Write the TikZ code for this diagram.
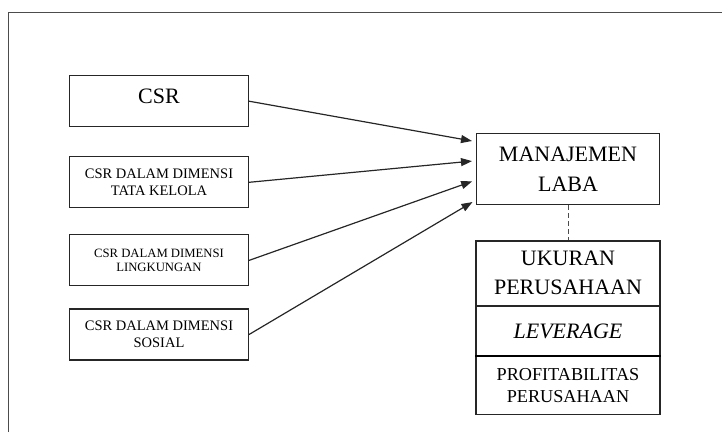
\documentclass[tikz,border=0pt]{standalone}
\usepackage{fontspec}
\setmainfont{Liberation Serif}
\usetikzlibrary{positioning,arrows.meta}

\begin{document}
\begin{tikzpicture}
    [
        x=1pt, y=1pt,
        varbox/.style={rectangle, draw=black!85, line width=1.1pt, minimum width=179pt, minimum height=51pt, inner sep=0pt, align=center},
        labanode/.style={rectangle, draw=black!85, line width=1.1pt, minimum width=183pt, minimum height=71pt, inner sep=0pt, align=center},
        kontrolbox/.style={rectangle, draw=black!85, line width=1.1pt, minimum width=184pt, inner sep=0pt, align=center},
        bigtext/.style={font=\fontsize{22}{30}\selectfont},
        smalltext/.style={font=\fontsize{14.5}{16.7}\selectfont},
        link/.style={draw=black!85, line width=1.2pt, -{Triangle[length=11pt,width=8pt]}, shorten >=4pt}
    ]

    \useasboundingbox (0,0) rectangle (722,432);
    \draw [black!70, line width=1.2pt] (8.5,0) |- (722,419.3);

    \node [varbox, bigtext, text depth=10pt] (csr) at (159,330.8) {CSR};
    \node [varbox, smalltext] (tatakelola) [below=29pt of csr] {CSR DALAM DIMENSI\\TATA KELOLA};
    \node [varbox, font=\fontsize{12.7}{14}\selectfont] (lingkungan) [below=26pt of tatakelola] {CSR DALAM DIMENSI\\LINGKUNGAN};
    \node [varbox, smalltext] (sosial) [below=22pt of lingkungan] {CSR DALAM DIMENSI\\SOSIAL};

    \node [labanode, bigtext] (laba) at (568,262.6) {MANAJEMEN\\LABA};
    \node [kontrolbox, font=\fontsize{22}{29}\selectfont, minimum height=64.3pt] (ukuran) [below=35pt of laba] {UKURAN\\PERUSAHAAN};
    \node [kontrolbox, bigtext, minimum height=49pt] (leverage) [below=0pt of ukuran] {\textit{LEVERAGE}};
    \node [kontrolbox, font=\fontsize{18.2}{21.7}\selectfont, minimum height=58.4pt] (profit) [below=0pt of leverage] {PROFITABILITAS\\PERUSAHAAN};
    \draw [black, line width=2pt] (leverage.south west) -- (leverage.south east);

    \coordinate (in1) at ([yshift=27.7pt]laba.west);
    \coordinate (in2) at ([yshift=8.7pt]laba.west);
    \coordinate (in3) at ([yshift=-10.6pt]laba.west);
    \coordinate (in4) at ([yshift=-30.6pt]laba.west);

    \draw [link] (csr.east) -- (in1);
    \draw [link] (tatakelola.east) -- (in2);
    \draw [link] (lingkungan.east) -- (in3);
    \draw [link] (sosial.east) -- (in4);

    \draw [black!70, line width=1pt, dash pattern=on 5pt off 3pt] (laba) -- (ukuran);

\end{tikzpicture}
\end{document}
